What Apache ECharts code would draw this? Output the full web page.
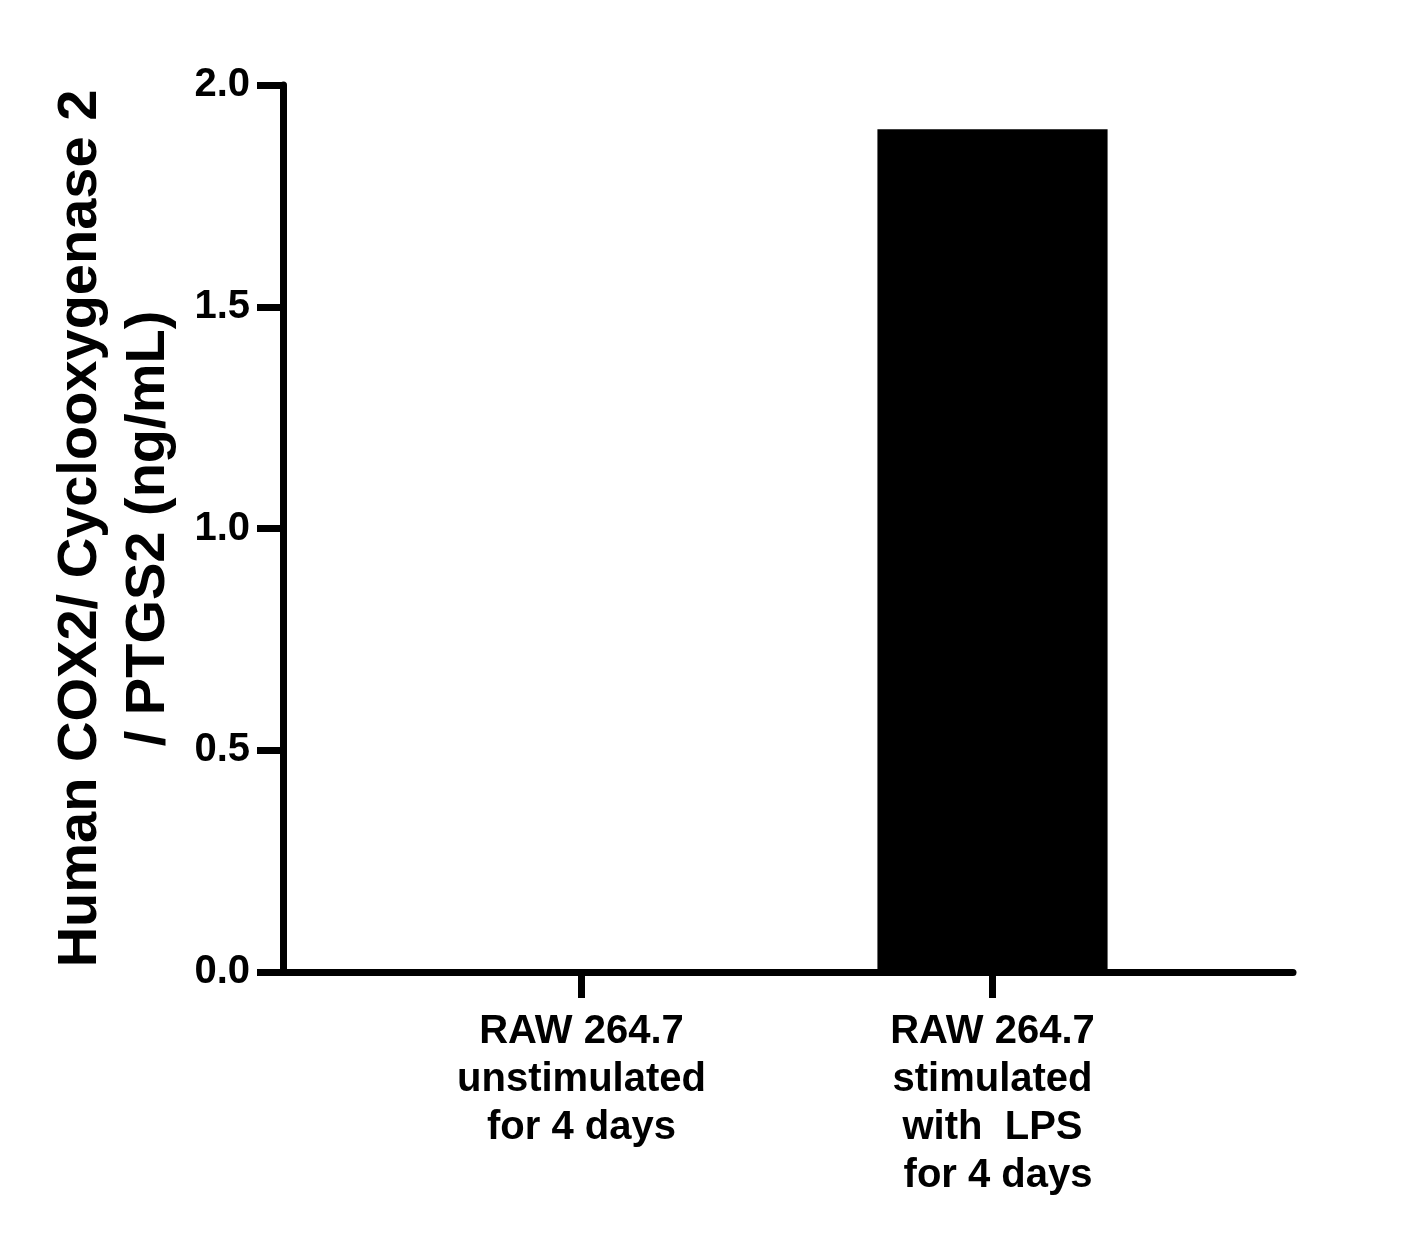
<!DOCTYPE html><html><head><meta charset="utf-8"><script src="https://cdn.jsdelivr.net/npm/echarts@6/dist/echarts.min.js"></script>
<style>body{margin:0;background:#fff}#c{width:1428px;height:1233px}</style></head><body><div id="c"></div><script>
const categories=['RAW 264.7\nunstimulated\nfor 4 days','RAW 264.7\nstimulated\nwith  LPS\n for 4 days'];
const values=[0,1.9];
const yTicks=[0,0.5,1,1.5,2];
const yTitle='Human COX2/ Cyclooxygenase 2\n/ PTGS2 (ng/mL)';
const F='Arial, Liberation Sans, sans-serif';
const ch=echarts.init(document.getElementById('c'));
ch.setOption({
 animation:false,
 grid:[{left:376,right:230,top:85,bottom:261},{left:283,right:135,top:85,bottom:261}],
 xAxis:[{type:'category',gridIndex:0,data:categories,axisLine:{show:false},
   axisTick:{show:true,length:26,lineStyle:{width:7,color:'#000'},alignWithLabel:true},
   axisLabel:{fontFamily:F,fontWeight:'bold',fontSize:40,color:'#000',lineHeight:48,margin:36}},
  {type:'value',gridIndex:1,min:0,max:1,axisLine:{show:true,onZero:false,lineStyle:{width:7,color:'#000'}},axisTick:{show:false},axisLabel:{show:false},splitLine:{show:false}}],
 yAxis:[{type:'value',gridIndex:0,min:0,max:2,show:false},
  {type:'value',gridIndex:1,min:yTicks[0],max:yTicks[yTicks.length-1],interval:0.5,
   axisLine:{show:true,lineStyle:{width:7,color:'#000'}},axisTick:{show:true,length:26,lineStyle:{width:7,color:'#000'}},
   splitLine:{show:false},
   axisLabel:{fontFamily:F,fontWeight:'bold',fontSize:40,color:'#000',margin:33,formatter:v=>v.toFixed(1)},
   name:yTitle,nameLocation:'middle',nameGap:100,nameRotate:90,
   nameTextStyle:{fontFamily:F,fontWeight:'bold',fontSize:56,color:'#000',lineHeight:68}}],
 series:[{type:'bar',xAxisIndex:0,yAxisIndex:0,data:values,barWidth:'56%',itemStyle:{color:'#000'}}]
});
</script></body></html>
